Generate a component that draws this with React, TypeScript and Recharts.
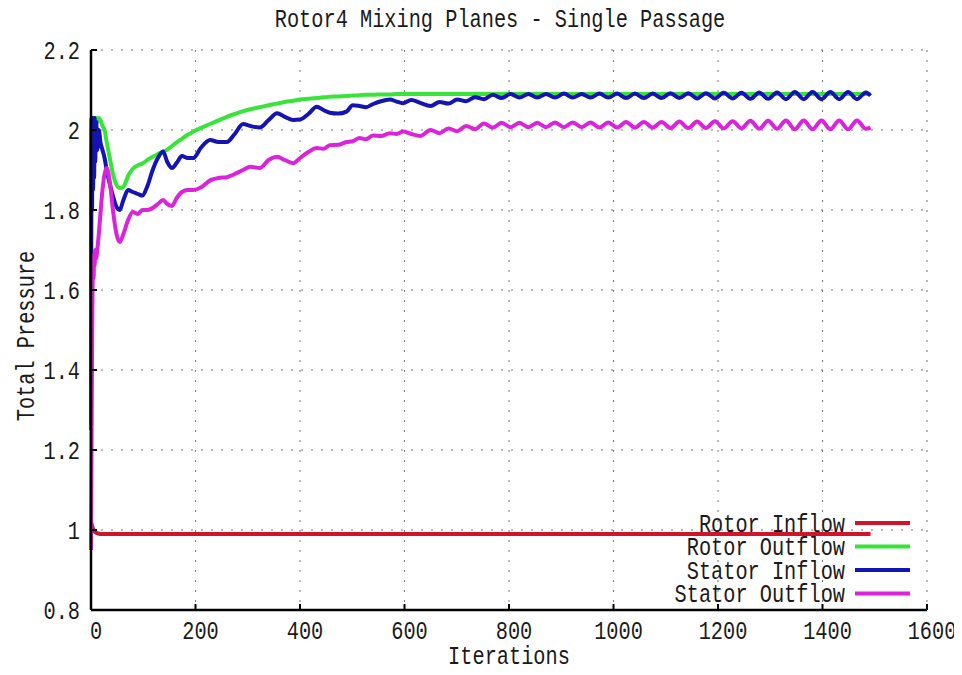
import { CartesianGrid, Line, LineChart, XAxis, YAxis } from 'recharts'

// iteration samples shared by all four monitors
const iterations = [
  0, 1, 2, 3, 4, 5, 6, 7, 8,
  10, 12, 15, 18, 22, 26, 30,
  36, 42, 48, 55, 62, 71, 80, 90, 98,
  108, 118, 128, 138, 146, 155, 164, 174, 185, 196,
  210, 228, 244, 260, 275, 291, 305, 323, 340, 356,
  371, 387, 400, 416, 432, 445, 457, 473, 489, 501,
  514, 526, 540, 555, 572, 585, 597, 613, 630,
  650, 667, 684, 701, 718, 735, 752, 769, 786, 803,
  820, 837, 854, 871, 888, 905, 922, 939, 956, 973,
  990, 1007, 1024, 1041, 1058, 1075, 1092, 1109, 1126, 1143,
  1160, 1177, 1194, 1211, 1228, 1245, 1262, 1279, 1296, 1313,
  1330, 1347, 1364, 1381, 1398, 1415, 1432, 1449, 1466, 1483,
  1492,
]

const rotorInflow = [
  1.02, 1.015, 1.01, 1.006, 1.003, 1.0, 0.998, 0.996, 0.995,
  0.993, 0.992, 0.991, 0.99, 0.99, 0.99, 0.99,
  0.99, 0.99, 0.99, 0.99, 0.99, 0.99, 0.99, 0.99, 0.99,
  0.99, 0.99, 0.99, 0.99, 0.99, 0.99, 0.99, 0.99, 0.99, 0.99,
  0.99, 0.99, 0.99, 0.99, 0.99, 0.99, 0.99, 0.99, 0.99, 0.99,
  0.99, 0.99, 0.99, 0.99, 0.99, 0.99, 0.99, 0.99, 0.99, 0.99,
  0.99, 0.99, 0.99, 0.99, 0.99, 0.99, 0.99, 0.99, 0.99,
  0.99, 0.99, 0.99, 0.99, 0.99, 0.99, 0.99, 0.99, 0.99, 0.99,
  0.99, 0.99, 0.99, 0.99, 0.99, 0.99, 0.99, 0.99, 0.99, 0.99,
  0.99, 0.99, 0.99, 0.99, 0.99, 0.99, 0.99, 0.99, 0.99, 0.99,
  0.99, 0.99, 0.99, 0.99, 0.99, 0.99, 0.99, 0.99, 0.99, 0.99,
  0.99, 0.99, 0.99, 0.99, 0.99, 0.99, 0.99, 0.99, 0.99, 0.99,
  0.99,
]

const rotorOutflow = [
  1.6, 1.95, 2.02, 1.98, 2.03, 2.0, 2.02, 2.03, 2.02,
  2.03, 2.02, 2.03, 2.025, 2.01, 2.0, 1.97,
  1.93, 1.89, 1.865, 1.855, 1.858, 1.885, 1.903, 1.912, 1.916,
  1.925, 1.933, 1.94, 1.946, 1.951, 1.96, 1.969, 1.978, 1.988, 1.996,
  2.005, 2.015, 2.024, 2.033, 2.04, 2.047, 2.052, 2.057, 2.062, 2.066,
  2.07, 2.073, 2.076, 2.078, 2.08, 2.082, 2.083, 2.084, 2.085, 2.086,
  2.087, 2.088, 2.088, 2.089, 2.089, 2.09, 2.09, 2.09, 2.09,
  2.09, 2.09, 2.09, 2.09, 2.09, 2.09, 2.09, 2.09, 2.09, 2.09,
  2.09, 2.09, 2.09, 2.09, 2.09, 2.09, 2.09, 2.09, 2.09, 2.09,
  2.09, 2.09, 2.09, 2.09, 2.09, 2.09, 2.09, 2.09, 2.09, 2.09,
  2.09, 2.09, 2.09, 2.09, 2.09, 2.09, 2.09, 2.09, 2.09, 2.09,
  2.09, 2.09, 2.09, 2.09, 2.09, 2.09, 2.09, 2.09, 2.09, 2.09,
  2.09,
]

const statorInflow = [
  1.25, 2.03, 1.8, 2.03, 1.85, 2.02, 1.88, 2.03, 1.92,
  2.02, 1.95, 2.0, 1.97, 1.95, 1.93, 1.9,
  1.865, 1.835, 1.81, 1.8, 1.825, 1.85, 1.845, 1.84, 1.836,
  1.86, 1.9, 1.93, 1.946, 1.92, 1.905, 1.918, 1.935, 1.93, 1.93,
  1.955, 1.975, 1.97, 1.97, 1.99, 2.015, 2.01, 2.006, 2.025, 2.042,
  2.033, 2.025, 2.026, 2.04, 2.058, 2.05, 2.043, 2.041, 2.046, 2.062,
  2.06, 2.057, 2.065, 2.072, 2.076, 2.071, 2.067, 2.075, 2.068,
  2.06, 2.07, 2.066, 2.076, 2.072, 2.082, 2.077, 2.088, 2.08, 2.09,
  2.081, 2.09, 2.081, 2.09, 2.081, 2.091, 2.081, 2.09, 2.081, 2.091,
  2.081, 2.091, 2.08, 2.091, 2.08, 2.091, 2.08, 2.092, 2.08, 2.092,
  2.079, 2.092, 2.079, 2.093, 2.079, 2.093, 2.078, 2.094, 2.078, 2.094,
  2.077, 2.095, 2.077, 2.095, 2.077, 2.095, 2.077, 2.095, 2.077, 2.094,
  2.086,
]

const statorOutflow = [
  0.95, 1.2, 1.45, 1.6, 1.66, 1.63, 1.69, 1.66, 1.7,
  1.68, 1.7, 1.74, 1.79, 1.85, 1.89, 1.905,
  1.87, 1.8, 1.745, 1.72, 1.74, 1.775, 1.795, 1.79, 1.8,
  1.8, 1.805, 1.815, 1.825, 1.815, 1.81, 1.83, 1.845, 1.85, 1.85,
  1.856, 1.874, 1.88, 1.882, 1.89, 1.9, 1.908, 1.905, 1.925, 1.933,
  1.925, 1.917, 1.93, 1.945, 1.955, 1.953, 1.962, 1.963, 1.97, 1.972,
  1.98, 1.977, 1.986, 1.985, 1.992, 1.99, 1.996, 1.99, 1.985,
  2.0, 1.992, 2.004, 1.997, 2.01, 2.002, 2.016, 2.006, 2.018, 2.007,
  2.018, 2.007, 2.018, 2.007, 2.019, 2.007, 2.019, 2.007, 2.019, 2.006,
  2.019, 2.006, 2.02, 2.006, 2.02, 2.006, 2.02, 2.005, 2.021, 2.005,
  2.021, 2.005, 2.022, 2.004, 2.022, 2.004, 2.023, 2.003, 2.023, 2.003,
  2.024, 2.002, 2.024, 2.002, 2.024, 2.002, 2.024, 2.002, 2.024, 2.003,
  2.006,
]

const xTicks = [0, 200, 400, 600, 800, 1000, 1200, 1400, 1600]
const yTicks = [0.8, 1, 1.2, 1.4, 1.6, 1.8, 2, 2.2]

const seriesKeys = ['rotorIn', 'rotorOut', 'statorIn', 'statorOut']
const seriesNames = ['Rotor Inflow', 'Rotor Outflow', 'Stator Inflow', 'Stator Outflow']
const seriesColors = ['#d2142a', '#38e438', '#1414b4', '#dc23dc']

const rows = iterations.map((it, i) => ({
  it,
  rotorIn: rotorInflow[i],
  rotorOut: rotorOutflow[i],
  statorIn: statorInflow[i],
  statorOut: statorOutflow[i],
}))

const FONT = "'Liberation Mono', 'DejaVu Sans Mono', monospace"
const FONT_SIZE = 20.3
const STRETCH = 1.3

// tall, narrow glyphs: monospace text stretched vertically
function StretchedText({ x, y, anchor = 'middle', rotate = 0, children }: any) {
  return (
    <text
      transform={`translate(${x},${y}) rotate(${rotate}) scale(1,${STRETCH})`}
      textAnchor={anchor}
      fontFamily={FONT}
      fontSize={FONT_SIZE}
      fill="#1a1a1a"
    >
      {children}
    </text>
  )
}

function XTick({ x, y, payload }: any) {
  return <StretchedText x={x + 5} y={y + 29}>{payload.value}</StretchedText>
}

function YTick({ x, y, payload }: any) {
  return <StretchedText x={x - 11} y={y + 9} anchor="end">{payload.value}</StretchedText>
}

const frameLine = { stroke: '#000', strokeWidth: 2.5 }
const tickMark = { stroke: '#000', strokeWidth: 2 }

export default function App() {
  return (
    <div style={{ width: 962, height: 675, margin: -8 }}>
      <LineChart
        width={962}
        height={675}
        data={rows}
        margin={{ top: 50, right: 35, bottom: 0, left: 0 }}
      >
        <CartesianGrid stroke="#777" strokeDasharray="2 8" />
        <XAxis
          dataKey="it"
          type="number"
          domain={[0, 1600]}
          ticks={xTicks}
          height={65}
          tickSize={-6}
          tickMargin={6}
          axisLine={frameLine}
          tickLine={tickMark}
          tick={(p: any) => <XTick {...p} />}
          interval={0}
        />
        <XAxis
          xAxisId="top"
          orientation="top"
          dataKey="it"
          type="number"
          domain={[0, 1600]}
          ticks={xTicks}
          height={0}
          tickSize={-6}
          axisLine={frameLine}
          tickLine={tickMark}
          tick={false}
        />
        <YAxis
          type="number"
          domain={[0.8, 2.2]}
          ticks={yTicks}
          width={91}
          tickSize={-6}
          tickMargin={6}
          axisLine={frameLine}
          tickLine={tickMark}
          tick={(p: any) => <YTick {...p} />}
          interval={0}
        />
        <YAxis
          yAxisId="right"
          orientation="right"
          type="number"
          domain={[0.8, 2.2]}
          ticks={yTicks}
          width={0}
          tickSize={-6}
          axisLine={frameLine}
          tickLine={tickMark}
          tick={false}
        />
        {seriesKeys.map((key, i) => (
          <Line
            key={key}
            type="monotone"
            dataKey={key}
            name={seriesNames[i]}
            stroke={seriesColors[i]}
            strokeWidth={4}
            strokeLinejoin="round"
            dot={false}
            activeDot={false}
            isAnimationActive={false}
          />
        ))}

        <StretchedText x={500} y={27}>Rotor4 Mixing Planes - Single Passage</StretchedText>
        <StretchedText x={509} y={664}>Iterations</StretchedText>
        <StretchedText x={25} y={336} rotate={-90}>
          <tspan dy={7}>Total Pressure</tspan>
        </StretchedText>

        {/* key, bottom right inside the frame */}
        <g>
          {seriesNames.map((name, i) => {
            const cy = 523 + i * 23.5
            return (
              <g key={name}>
                <StretchedText x={845} y={cy + 8.5} anchor="end">{name}</StretchedText>
                <line x1={855} x2={910} y1={cy} y2={cy} stroke={seriesColors[i]} strokeWidth={4} />
              </g>
            )
          })}
        </g>
      </LineChart>
    </div>
  )
}
